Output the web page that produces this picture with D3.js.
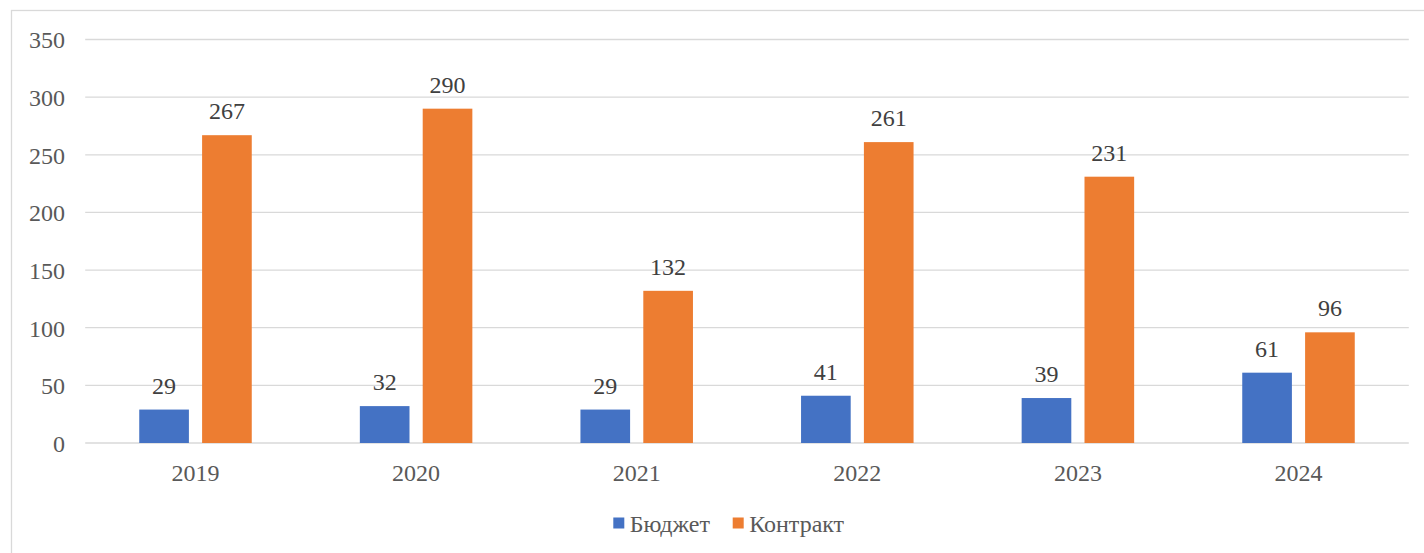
<!DOCTYPE html>
<html><head><meta charset="utf-8">
<script src="https://cdn.jsdelivr.net/npm/d3@7"></script>
<style>body{margin:0;background:#fff}svg{display:block}svg text{font-family:"Liberation Serif","Times New Roman",serif}</style>
</head><body>
<svg id="c" width="1424" height="553"></svg>
<script>
const categories = ["2019","2020","2021","2022","2023","2024"];
const seriesNames = ["Бюджет","Контракт"];
const budget = [29,32,29,41,39,61];
const contract = [267,290,132,261,231,96];
const yTicks = [0,50,100,150,200,250,300,350];
const colors = ["#4472C4","#ED7D31"];

const svg = d3.select("#c");
const font = '"Liberation Serif","Times New Roman",serif';
svg.append("rect").attr("x",11.5).attr("y",10.5).attr("width",1430).attr("height",560)
  .attr("fill","#fff").attr("stroke","#D9D9D9").attr("stroke-width",1.3);

const pLeft=85.2, pRight=1408.8, pTop=39.5, pBottom=443;
const x = d3.scaleBand().domain(categories).range([pLeft,pRight]).paddingInner(0.49).paddingOuter(0.245);
const x1 = d3.scaleBand().domain(seriesNames).range([0,x.bandwidth()]).paddingInner(0.21);
const y = d3.scaleLinear().domain([0,350]).range([pBottom,pTop]);

const g = svg.append("g");
g.selectAll("line.grid").data(yTicks).join("line")
  .attr("x1",pLeft).attr("x2",pRight).attr("y1",d=>y(d)).attr("y2",d=>y(d))
  .attr("stroke","#D9D9D9").attr("stroke-width",1.3);

const yAxis = d3.axisLeft(y).tickValues(yTicks).tickSize(0).tickPadding(0);
const ya = g.append("g").attr("transform","translate(65,0)").call(yAxis);
ya.select(".domain").remove();
ya.selectAll("text").style("font-family",font).attr("font-size",24).attr("fill","#595959").attr("dy","0.35em");

const xAxis = d3.axisBottom(x).tickSize(0).tickPadding(0);
const xa = g.append("g").attr("transform",`translate(0,${pBottom})`).call(xAxis);
xa.select(".domain").remove();
xa.selectAll("text").style("font-family",font).attr("font-size",24).attr("fill","#595959").attr("dy",0).attr("y",37.5);

const data = categories.map((c,i)=>({c, vals:[budget[i],contract[i]]}));
const grp = g.selectAll("g.cat").data(data).join("g").attr("transform",d=>`translate(${x(d.c)},0)`);
grp.selectAll("rect").data(d=>d.vals.map((v,j)=>({v,s:seriesNames[j],j}))).join("rect")
  .attr("x",d=>x1(d.s)).attr("width",x1.bandwidth())
  .attr("y",d=>y(d.v)).attr("height",d=>y(0)-y(d.v)).attr("fill",d=>colors[d.j]);
grp.selectAll("text.lbl").data(d=>d.vals.map((v,j)=>({v,s:seriesNames[j],j}))).join("text")
  .attr("class","lbl")
  .attr("x",d=>x1(d.s)+x1.bandwidth()/2).attr("y",d=>y(d.v)-16)
  .attr("text-anchor","middle").style("font-family",font).attr("font-size",24).attr("fill","#404040")
  .text(d=>d.v);

// legend
const legend = svg.append("g");
const items = [{n:seriesNames[0],x:613.3,c:colors[0]},{n:seriesNames[1],x:732.7,c:colors[1]}];
items.forEach(it=>{
  legend.append("rect").attr("x",it.x).attr("y",517.5).attr("width",11).attr("height",11).attr("fill",it.c);
  legend.append("text").attr("x",it.x+16.5).attr("y",531.5).style("font-family",font).attr("font-size",24)
    .attr("fill","#595959").text(it.n);
});
</script>
</body></html>
